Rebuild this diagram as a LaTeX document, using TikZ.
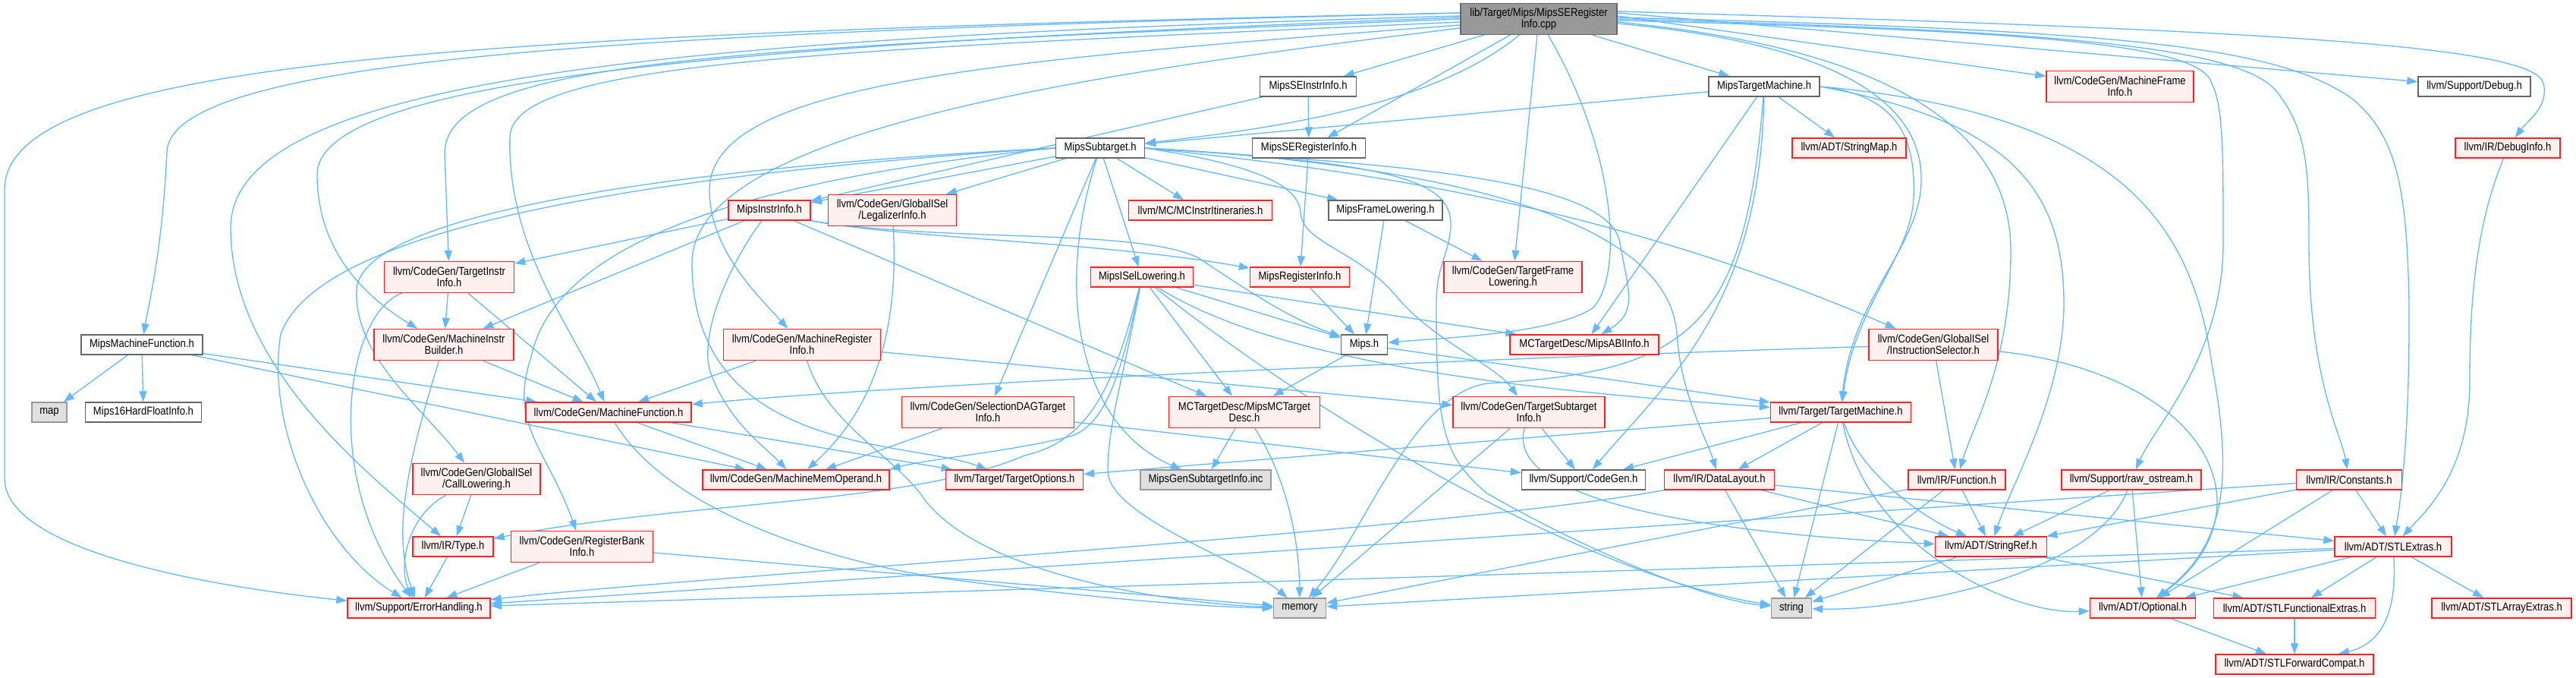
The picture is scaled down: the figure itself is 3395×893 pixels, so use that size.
\documentclass[tikz,border=0pt]{standalone}
\usepackage{fontspec}
\newfontfamily\nodefont{Liberation Sans}[FakeStretch=0.87]
\usetikzlibrary{arrows.meta}
\definecolor{edgecol}{HTML}{63B8FF}
\definecolor{redline}{HTML}{FF2020}
\definecolor{redfill}{HTML}{FFF0F0}
\definecolor{grayline}{HTML}{666666}
\definecolor{rootfill}{HTML}{999999}
\definecolor{sysfill}{HTML}{E0E0E0}
\definecolor{sysline}{HTML}{999999}
\pgfdeclarelayer{back}
\pgfdeclarelayer{edges}
\pgfsetlayers{back,edges,main}
\tikzset{
  nb/.style={draw, line width=1.4pt, inner sep=0pt, align=center, minimum height=26pt,
    font={\nodefont\fontsize{15pt}{15pt}\selectfont}, text=black},
  nred/.style={nb, draw=redline, fill=redfill},
  nwh/.style={nb, draw=grayline, fill=white},
  nsys/.style={nb, draw=sysline, fill=sysfill},
  nroot/.style={nb, draw=grayline, fill=rootfill},
  wd/.style={minimum width=#1pt},
  tall/.style={minimum height=41pt},
  edg/.style={draw=edgecol, line width=1.3pt, -{Triangle[length=14pt,width=10pt]}}
}
\begin{document}
\begin{tikzpicture}[x=1pt,y=1pt]
\useasboundingbox (0,0) rectangle (3395,-893);
\begin{pgfonlayer}{back}
\fill[white] (0,0) rectangle (3395,-893);
\end{pgfonlayer}
% nodes
\node[nroot,wd=206,tall] (root) at (2028,-25) {lib/Target/Mips/MipsSERegister\\Info.cpp};
\node[nwh,wd=127] (seii) at (1724,-114) {MipsSEInstrInfo.h};
\node[nwh,wd=146] (mtm) at (2325,-114) {MipsTargetMachine.h};
\node[nred,wd=194,tall] (mfi) at (2794,-114) {llvm/CodeGen/MachineFrame\\Info.h};
\node[nwh,wd=148] (dbg) at (3261,-114) {llvm/Support/Debug.h};
\node[nwh,wd=117] (st) at (1450,-195) {MipsSubtarget.h};
\node[nwh,wd=149] (seri) at (1725,-195) {MipsSERegisterInfo.h};
\node[nred,wd=150] (smap) at (2437,-195) {llvm/ADT/StringMap.h};
\node[nred,wd=138] (dinfo) at (3305,-195) {llvm/IR/DebugInfo.h};
\node[nred,wd=108] (mii) at (1014,-277) {MipsInstrInfo.h};
\node[nred,wd=169,tall] (legal) at (1176,-277) {llvm/CodeGen/GlobalISel\\/LegalizerInfo.h};
\node[nred,wd=189] (itin) at (1582,-277) {llvm/MC/MCInstrItineraries.h};
\node[nwh,wd=150] (mfl) at (1826,-277) {MipsFrameLowering.h};
\node[nred,wd=171,tall] (tii) at (592,-365) {llvm/CodeGen/TargetInstr\\Info.h};
\node[nred,wd=135] (isel) at (1505,-365) {MipsISelLowering.h};
\node[nred,wd=131] (mri) at (1713,-365) {MipsRegisterInfo.h};
\node[nred,wd=182,tall] (tfl) at (1994,-365) {llvm/CodeGen/TargetFrame\\Lowering.h};
\node[nwh,wd=160] (mmf) at (187,-454) {MipsMachineFunction.h};
\node[nred,wd=184,tall] (mib) at (585,-454) {llvm/CodeGen/MachineInstr\\Builder.h};
\node[nred,wd=207,tall] (mreg) at (1057,-454) {llvm/CodeGen/MachineRegister\\Info.h};
\node[nwh,wd=61] (mips) at (1798,-454) {Mips.h};
\node[nred,wd=196] (abi) at (2088,-454) {MCTargetDesc/MipsABIInfo.h};
\node[nred,wd=170,tall] (is) at (2548,-454) {llvm/CodeGen/GlobalISel\\/InstructionSelector.h};
\node[nsys,wd=46] (map) at (65,-543) {map};
\node[nwh,wd=153] (hf) at (189,-543) {Mips16HardFloatInfo.h};
\node[nred,wd=218] (mf) at (802,-543) {llvm/CodeGen/MachineFunction.h};
\node[nred,wd=227,tall] (sdag) at (1302,-543) {llvm/CodeGen/SelectionDAGTarget\\Info.h};
\node[nred,wd=199,tall] (mcd) at (1640,-543) {MCTargetDesc/MipsMCTarget\\Desc.h};
\node[nred,wd=200,tall] (tsi) at (2015,-543) {llvm/CodeGen/TargetSubtarget\\Info.h};
\node[nred,wd=185] (tm) at (2426,-543) {llvm/Target/TargetMachine.h};
\node[nred,wd=168,tall] (cl) at (628,-631) {llvm/CodeGen/GlobalISel\\/CallLowering.h};
\node[nred,wd=246] (mmo) at (1049,-632) {llvm/CodeGen/MachineMemOperand.h};
\node[nred,wd=181] (topt) at (1337,-632) {llvm/Target/TargetOptions.h};
\node[nsys,wd=172] (gen) at (1589,-632) {MipsGenSubtargetInfo.inc};
\node[nwh,wd=163] (cg) at (2087,-632) {llvm/Support/CodeGen.h};
\node[nred,wd=145] (dl) at (2266,-632) {llvm/IR/DataLayout.h};
\node[nred,wd=128] (fn) at (2579,-632) {llvm/IR/Function.h};
\node[nred,wd=184] (ro) at (2809,-632) {llvm/Support/raw\_ostream.h};
\node[nred,wd=139] (cst) at (3096,-632) {llvm/IR/Constants.h};
\node[nred,wd=106] (type) at (597,-720) {llvm/IR/Type.h};
\node[nred,wd=187,tall] (rbi) at (767,-720) {llvm/CodeGen/RegisterBank\\Info.h};
\node[nred,wd=147] (sref) at (2624,-720) {llvm/ADT/StringRef.h};
\node[nred,wd=154] (stle) at (3154,-720) {llvm/ADT/STLExtras.h};
\node[nred,wd=188] (eh) at (552,-801) {llvm/Support/ErrorHandling.h};
\node[nsys,wd=69] (mem) at (1713,-801) {memory};
\node[nsys,wd=53] (str) at (2361,-801) {string};
\node[nred,wd=139] (opt) at (2824,-801) {llvm/ADT/Optional.h};
\node[nred,wd=213] (sfe) at (3024,-801) {llvm/ADT/STLFunctionalExtras.h};
\node[nred,wd=184] (sae) at (3297,-801) {llvm/ADT/STLArrayExtras.h};
\node[nred,wd=208] (sfc) at (3024,-875) {llvm/ADT/STLForwardCompat.h};
% edges
\begin{pgfonlayer}{edges}
% root
\draw[edg] (root) -- (seii);
\draw[edg] (root) -- (mtm);
\draw[edg] ([yshift=4pt]root.east) -- (mfi);
\draw[edg] ([yshift=8pt]root.east) -- (dbg);
\draw[edg] ([yshift=10pt]root.east) .. controls (3000,-40) and (3340,-60) .. (3352,-110) .. controls (3360,-140) and (3330,-160) .. (dinfo);
\draw[edg] (root) .. controls (1900,-130) and (1720,-165) .. (st);
\draw[edg] (root) -- (seri);
\draw[edg] (root) -- (tfl);
\draw[edg] (root) .. controls (2130,-200) and (2140,-360) .. (2100,-405) .. controls (2050,-440) and (1900,-445) .. (mips);
\draw[edg] ([yshift=8pt]root.west) .. controls (900,-42) and (225,-70) .. (220,-200) .. controls (214,-330) and (196,-400) .. (mmf);
\draw[edg] ([yshift=8pt]root.west) .. controls (600,-45) and (6,-80) .. (6,-250) -- (6,-630) .. controls (6,-730) and (300,-775) .. (eh);
\draw[edg] ([yshift=4pt]root.west) .. controls (900,-50) and (304,-100) .. (304,-300) .. controls (304,-480) and (480,-620) .. (type);
\draw[edg] ([yshift=2pt]root.west) .. controls (1000,-58) and (418,-100) .. (418,-230) .. controls (418,-330) and (480,-390) .. (mib);
\draw[edg] (root.west) .. controls (1000,-62) and (590,-75) .. (586,-200) -- (tii);
\draw[edg] ([yshift=-4pt]root.west) .. controls (1100,-66) and (676,-80) .. (672,-180) .. controls (668,-330) and (760,-440) .. (mf);
\draw[edg] ([yshift=-8pt]root.west) .. controls (1300,-80) and (936,-110) .. (935,-250) .. controls (935,-330) and (1000,-390) .. (mreg);
\draw[edg] ([yshift=-12pt]root.west) .. controls (1450,-95) and (905,-170) .. (912,-350) .. controls (915,-600) and (1200,-580) .. (topt);
\draw[edg] ([yshift=2pt]root.east) .. controls (2800,-40) and (3000,-60) .. (3100,-130) .. controls (3160,-180) and (3172,-250) .. (3175,-400) .. controls (3176,-600) and (3160,-680) .. (stle);
\draw[edg] (root.east) .. controls (2700,-40) and (2950,-60) .. (3000,-120) .. controls (3040,-170) and (3043,-220) .. (3043,-320) .. controls (3043,-500) and (3085,-570) .. (cst);
\draw[edg] ([yshift=-2pt]root.east) .. controls (2650,-40) and (2900,-55) .. (2915,-110) .. controls (2930,-140) and (2930,-200) .. (2930,-320) .. controls (2930,-470) and (2840,-560) .. (ro);
\draw[edg] ([yshift=-4pt]root.east) .. controls (2450,-60) and (2650,-150) .. (2650,-330) .. controls (2650,-480) and (2600,-560) .. (fn);
\draw[edg] ([yshift=-6pt]root.east) .. controls (2450,-60) and (2548,-150) .. (2530,-260) .. controls (2515,-340) and (2440,-400) .. (tm);
% MipsTargetMachine
\draw[edg] (mtm) -- (st);
\draw[edg] (mtm) -- (abi);
\draw[edg] (mtm) -- (smap);
\draw[edg] (mtm) .. controls (2320,-400) and (2200,-500) .. (cg);
\draw[edg] (mtm) .. controls (2300,-430) and (2230,-490) .. (1960,-505) .. controls (1860,-520) and (1800,-700) .. (mem);
\draw[edg] (mtm.east) .. controls (2800,-150) and (2890,-300) .. (2915,-480) .. controls (2945,-640) and (2930,-720) .. (opt);
\draw[edg] (mtm.east) .. controls (2650,-160) and (2720,-250) .. (2720,-400) .. controls (2720,-520) and (2650,-640) .. (sref);
\draw[edg] (mtm.east) .. controls (2500,-125) and (2525,-180) .. (2522,-260) .. controls (2518,-340) and (2445,-400) .. (tm);
% MipsSubtarget
\draw[edg] (st) -- (mii);
\draw[edg] (st) -- (legal);
\draw[edg] (st) -- (itin);
\draw[edg] (st) -- (mfl);
\draw[edg] (st) -- (isel);
\draw[edg] (st) -- (sdag);
\draw[edg] (st.east) .. controls (1640,-215) and (1712,-240) .. (1714,-280) .. controls (1716,-320) and (1790,-330) .. (1840,-390) .. controls (1890,-450) and (1970,-480) .. (tsi);
\draw[edg] (st.east) .. controls (1800,-215) and (2120,-230) .. (2135,-320) .. controls (2145,-380) and (2160,-410) .. (abi);
\draw[edg] (st.west) .. controls (900,-220) and (480,-280) .. (470,-380) .. controls (465,-470) and (560,-540) .. (cl);
\draw[edg] (st.west) .. controls (850,-230) and (420,-300) .. (370,-440) .. controls (350,-560) and (420,-720) .. (eh);
\draw[edg] (st.west) .. controls (950,-240) and (730,-330) .. (700,-470) .. controls (670,-560) and (720,-590) .. (rbi);
\draw[edg] (st.east) .. controls (1800,-225) and (2120,-270) .. (is);
\draw[edg] (st.east) .. controls (1950,-220) and (2200,-300) .. (2210,-440) .. controls (2215,-520) and (2250,-580) .. (dl);
\draw[edg] (st.east) .. controls (1850,-215) and (1915,-240) .. (1912,-300) .. controls (1908,-340) and (1893,-350) .. (1893,-400) .. controls (1893,-560) and (1900,-600) .. (1960,-650) .. controls (2100,-730) and (2250,-790) .. (str);
\draw[edg] (st) .. controls (1390,-380) and (1420,-560) .. (gen);
% SE files
\draw[edg] (seii) -- (mii);
\draw[edg] (seii) -- (seri);
\draw[edg] (seri) -- (mri);
% MipsInstrInfo
\draw[edg] (mii) -- (tii);
\draw[edg] (mii) -- (mib);
\draw[edg] (mii.south east) .. controls (1200,-315) and (1450,-318) .. (mri);
\draw[edg] (mii.south east) .. controls (1250,-320) and (1500,-300) .. (1580,-340) .. controls (1640,-380) and (1700,-420) .. (mips);
\draw[edg] (mii) -- (mcd);
\draw[edg] (mii) .. controls (960,-350) and (915,-450) .. (940,-500) .. controls (965,-560) and (1010,-590) .. (mmo);
% frame lowering / register info
\draw[edg] (mfl) -- (mips);
\draw[edg] (mfl) -- (tfl);
\draw[edg] (mri) -- (mips);
% MipsISelLowering
\draw[edg] (isel) -- (mips);
\draw[edg] (isel) -- (abi);
\draw[edg] (isel) -- (mcd);
\draw[edg] (isel) .. controls (1480,-480) and (1460,-560) .. (1410,-575) .. controls (1330,-595) and (1220,-605) .. (mmo.north east);
\draw[edg] (isel) .. controls (1470,-500) and (1440,-580) .. (1350,-600) .. controls (1200,-665) and (900,-660) .. (type);
\draw[edg] (isel) .. controls (1700,-490) and (2100,-520) .. (tm);
\draw[edg] (isel) .. controls (1750,-560) and (2100,-760) .. (str);
\draw[edg] (isel) .. controls (1480,-500) and (1460,-560) .. (1460,-620) .. controls (1460,-680) and (1640,-740) .. (mem);
% Mips.h, MCTargetDesc
\draw[edg] (mips) -- (mcd);
\draw[edg] (mips) -- (tm);
\draw[edg] (mcd) .. controls (1690,-620) and (1712,-700) .. (mem);
\draw[edg] (mcd) -- (gen);
% MipsMachineFunction
\draw[edg] (mmf) -- (map);
\draw[edg] (mmf) -- (hf);
\draw[edg] (mmf) -- (mf);
\draw[edg] (mmf) -- (mmo);
% CodeGen headers
\draw[edg] (tii) -- (mib);
\draw[edg] (tii) -- (mf);
\draw[edg] (tii) .. controls (460,-410) and (420,-620) .. (eh);
\draw[edg] (mib) -- (mf);
\draw[edg] (mib) .. controls (540,-600) and (515,-700) .. (eh);
\draw[edg] (mreg) -- (mf);
\draw[edg] (mreg) -- (tsi);
\draw[edg] (mreg) .. controls (1090,-560) and (1180,-600) .. (1220,-660) .. controls (1300,-760) and (1550,-795) .. (mem);
\draw[edg] (mf) -- (mmo);
\draw[edg] (mf) -- (topt);
\draw[edg] (mf) .. controls (860,-640) and (1000,-720) .. (1230,-760) .. controls (1450,-790) and (1600,-800) .. (mem);
\draw[edg] (cl) -- (type);
\draw[edg] (cl) .. controls (535,-680) and (525,-750) .. (eh);
\draw[edg] (type) -- (eh);
\draw[edg] (rbi) -- (eh);
\draw[edg] (rbi) -- (mem);
\draw[edg] (legal) .. controls (1185,-440) and (1150,-540) .. (mmo);
\draw[edg] (sdag) -- (mmo);
\draw[edg] (sdag) -- (cg);
\draw[edg] (tsi) -- (cg);
\draw[edg] (tsi) -- (mem);
\draw[edg] (tsi) .. controls (1985,-650) and (2200,-700) .. (sref);
% Target
\draw[edg] (tm) -- (topt);
\draw[edg] (tm) -- (cg);
\draw[edg] (tm) -- (dl);
\draw[edg] (tm) -- (str);
\draw[edg] (tm) .. controls (2450,-620) and (2530,-680) .. (sref);
\draw[edg] (tm) .. controls (2460,-720) and (2650,-810) .. (opt);
% IR
\draw[edg] (dl) -- (sref);
\draw[edg] (dl) -- (stle);
\draw[edg] (dl) -- (str);
\draw[edg] (dl) .. controls (1900,-700) and (900,-760) .. (eh);
\draw[edg] (fn) -- (sref);
\draw[edg] (fn) -- (mem);
\draw[edg] (fn) -- (str);
\draw[edg] (is) -- (fn);
\draw[edg] (is) .. controls (2000,-470) and (1200,-505) .. (mf);
\draw[edg] (is) .. controls (2800,-480) and (2920,-560) .. (2922,-660) .. controls (2922,-720) and (2880,-760) .. (opt);
\draw[edg] (ro) -- (sref);
\draw[edg] (ro) -- (opt);
\draw[edg] (ro) .. controls (2760,-760) and (2500,-805) .. (str);
\draw[edg] (cst) -- (sref);
\draw[edg] (cst) -- (stle);
\draw[edg] (cst) -- (opt);
\draw[edg] (cst) -- (eh);
% ADT
\draw[edg] (stle) -- (sfe);
\draw[edg] (stle) -- (sae);
\draw[edg] (stle) .. controls (3160,-820) and (3130,-850) .. (sfc);
\draw[edg] (stle) -- (opt);
\draw[edg] (stle) -- (eh);
\draw[edg] (stle) -- (mem);
\draw[edg] (sref) -- (sfe);
\draw[edg] (sref) -- (str);
\draw[edg] (opt) -- (sfc);
\draw[edg] (sfe) -- (sfc);
\draw[edg] (dinfo) .. controls (3262,-300) and (3255,-400) .. (3255,-500) .. controls (3255,-620) and (3200,-670) .. (stle);
\end{pgfonlayer}
\end{tikzpicture}
\end{document}
